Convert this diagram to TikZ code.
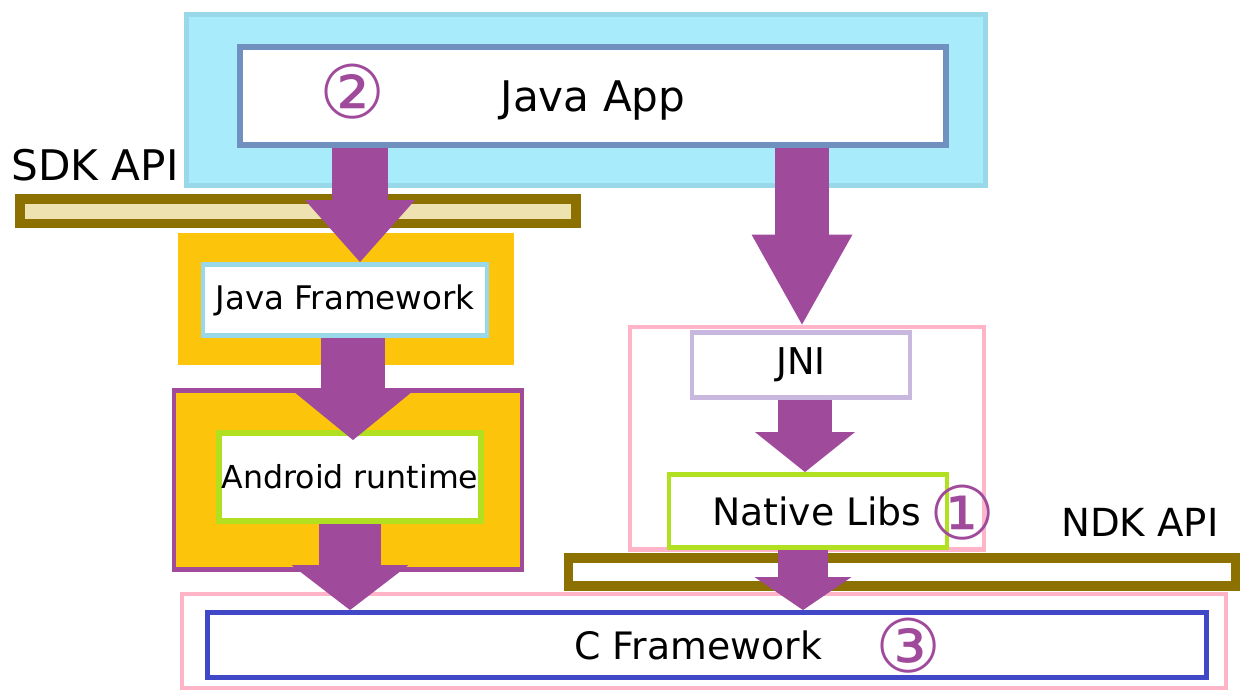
\documentclass[tikz,border=0pt]{standalone}
\usepackage{fontspec}
\setmainfont{DejaVu Sans}
\usetikzlibrary{arrows.meta}
\definecolor{appcyan}{HTML}{A8ECFC}
\definecolor{appcyanline}{HTML}{98D8E8}
\definecolor{appline}{HTML}{7090C0}
\definecolor{arrowpurple}{HTML}{A04A9C}
\definecolor{apigold}{HTML}{8C7000}
\definecolor{apifill}{HTML}{EEE2B0}
\definecolor{fworange}{HTML}{FCC50C}
\definecolor{limegreen}{HTML}{B0E020}
\definecolor{softpink}{HTML}{FFB4C8}
\definecolor{lavender}{HTML}{C8B8E0}
\definecolor{cblue}{HTML}{4048C8}

\begin{document}
\begin{tikzpicture}[x=0.02cm, y=-0.02cm,
  box/.style={draw, fill=white, inner sep=0pt},
  apibar/.style={draw=apigold, line width=5.4pt, inner sep=0pt},
  bigarrow/.style n args={3}{draw=arrowpurple, line width=#1,
    -{Triangle[width=#2, length=#3, line width=0pt, fill=arrowpurple]}},
  numtag/.style={text=arrowpurple, inner sep=0pt, font=\fontsize{42}{42}\selectfont},
  apilabel/.style={inner sep=0pt, font=\fontsize{24}{24}\selectfont},
]
\useasboundingbox (0,0) rectangle (1242,691);
\node[draw=appcyanline, fill=appcyan, line width=2.8pt, minimum width=15.98cm, minimum height=3.42cm] (appbg) at (586,100) {};
\node[box, draw=appline, line width=3.4pt, minimum width=14.14cm, minimum height=1.96cm, font=\fontsize{24}{24}\selectfont] (javaapp) at (593,96) {\raisebox{-9pt}[0pt][0pt]{Java App}};
\node[numtag] (n2) at (353,92) {②};
\node[apibar, fill=apifill, minimum width=11.13cm, minimum height=0.49cm] (sdk) at (298,211) {};
\node[apilabel] (sdklabel) at (95,165) {SDK API};
\node[fill=fworange, minimum width=6.74cm, minimum height=2.64cm] (jfwbg) at (346,299) {};
\node[box, draw=appcyanline, line width=2.8pt, minimum width=5.68cm, minimum height=1.42cm, font=\fontsize{18.5}{18.5}\selectfont] (javafw) at (345,300) {Java Framework};
\node[draw=arrowpurple, fill=fworange, line width=2.8pt, minimum width=6.96cm, minimum height=3.58cm] (artbg) at (348,480) {};
\node[box, draw=limegreen, line width=3.4pt, minimum width=5.24cm, minimum height=1.76cm, font=\fontsize{18}{18}\selectfont] (runtime) at (350,477) {Android runtime};
\node[draw=softpink, fill=white, line width=2.3pt, minimum width=20.88cm, minimum height=1.88cm] (cbg) at (704,641) {};
\node[box, draw=cblue, line width=2.8pt, minimum width=20cm, minimum height=1.3cm, font=\fontsize{21.5}{21.5}\selectfont] (cfw) at (707,645) {\hspace*{-10pt}C Framework};
\node[numtag] (n3) at (909,646) {③};
\node[draw=softpink, line width=2.3pt, minimum width=7.08cm, minimum height=4.46cm] (nativebg) at (807,438) {};
\node[box, draw=lavender, line width=2.8pt, minimum width=4.36cm, minimum height=1.3cm, font=\fontsize{21}{21}\selectfont] (jni) at (801,365) {JNI};
\node[box, draw=limegreen, line width=2.8pt, minimum width=5.56cm, minimum height=1.46cm, font=\fontsize{21.5}{21.5}\selectfont] (native) at (808,511) {\hspace*{10pt}Native Libs};
\node[numtag] (n1) at (963,513) {①};
\node[apibar, fill=white, minimum width=13.34cm, minimum height=0.56cm] (ndk) at (902,572) {};
\node[apilabel, font=\fontsize{22}{22}\selectfont] (ndklabel) at (1140,522) {NDK API};
\coordinate (ax1) at (360,0);
\coordinate (ax2) at (353,0);
\coordinate (ax3) at (350,0);
\coordinate (ax4) at (802,0);
\coordinate (ax5) at (805,0);
\coordinate (ax6) at (803,0);
\draw[bigarrow={1.14cm}{2.2cm}{1.24cm}] (javaapp.south -| ax1) -- (javafw.north -| ax1);
\draw[bigarrow={1.3cm}{2.5cm}{1.02cm}, shorten >=-0.2cm] (javafw.south -| ax2) -- (runtime.north -| ax2);
\draw[bigarrow={1.26cm}{2.34cm}{0.9cm}] (runtime.south -| ax3) -- (cfw.north -| ax3);
\draw[bigarrow={1.08cm}{2.02cm}{1.8cm}] (javaapp.south -| ax4) -- (nativebg.north -| ax4);
\draw[bigarrow={1.08cm}{2cm}{0.8cm}] (jni.south -| ax5) -- (native.north -| ax5);
\draw[bigarrow={1cm}{1.94cm}{0.66cm}] (native.south -| ax6) -- (cfw.north -| ax6);
\end{tikzpicture}
\end{document}
